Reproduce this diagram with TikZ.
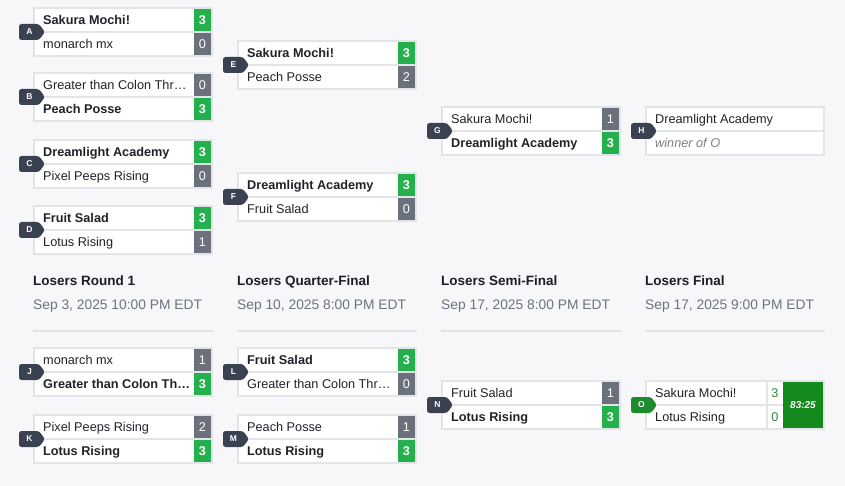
\documentclass[tikz,border=0pt]{standalone}
\usepackage{fontspec}
\setmainfont{Liberation Sans}
\usetikzlibrary{calc}
\pgfdeclarelayer{bg}
\pgfsetlayers{bg,main}
\definecolor{bgc}{HTML}{F7F7F9}
\definecolor{boxline}{HTML}{E3E4E8}
\definecolor{connc}{HTML}{D8DBE0}
\definecolor{wingreen}{HTML}{24B04C}
\definecolor{losegray}{HTML}{6B717C}
\definecolor{tagdark}{HTML}{3A4150}
\definecolor{taggreen}{HTML}{1D8A2E}
\definecolor{timegreen}{HTML}{148A1E}
\definecolor{oscore}{HTML}{2E8B3A}
\definecolor{teamc}{HTML}{1F2328}
\definecolor{titlec}{HTML}{1B1E25}
\definecolor{datec}{HTML}{6B7280}
\definecolor{italc}{HTML}{7A7F88}
\tikzset{
  box/.style={draw=boxline, line width=1.5pt, fill=white, minimum width=178pt, minimum height=48pt, inner sep=0pt, outer sep=0pt},
  rowline/.style={draw=boxline, line width=1.5pt},
  teamW/.style={anchor=base west, inner sep=0pt, font=\fontsize{12.7}{15}\selectfont\bfseries, text=teamc},
  teamL/.style={anchor=base west, inner sep=0pt, font=\fontsize{12.7}{15}\selectfont, text=teamc},
  teamI/.style={anchor=base west, inner sep=0pt, font=\fontsize{12.7}{15}\selectfont\itshape, text=italc},
  scoreW/.style={fill=wingreen, text=white, font=\fontsize{12.7}{15}\selectfont\bfseries, minimum width=17pt, minimum height=22pt, inner sep=0pt},
  scoreL/.style={fill=losegray, text=white, font=\fontsize{12.7}{15}\selectfont, minimum width=17pt, minimum height=22pt, inner sep=0pt},
  scoreO/.style={text=oscore, font=\fontsize{12.7}{15}\selectfont, inner sep=0pt},
  timebox/.style={fill=timegreen, text=white, font=\fontsize{10}{12}\selectfont\bfseries\itshape, minimum width=40pt, minimum height=46pt, inner sep=0pt},
  conn/.style={draw=connc, line width=1.5pt, rounded corners=7pt},
  tagtext/.style={text=white, font=\fontsize{8.5}{10}\selectfont\bfseries, minimum width=21pt, minimum height=16pt, inner sep=0pt},
  rtitle/.style={anchor=base west, inner sep=0pt, font=\fontsize{13.5}{16}\selectfont\bfseries, text=titlec},
  rdate/.style={anchor=base west, inner sep=0pt, font=\fontsize{13.8}{16}\selectfont, text=datec},
  hline/.style={draw=boxline, line width=1.5pt}
}
% #1 name, #2 left, #3 top, #4 text1, #5 score1, #6 W/L, #7 text2, #8 score2, #9 W/L
\newcommand\Match[9]{%
  \node[box] (#1) at (#2+89,#3+24) {};
  \draw[rowline] (#1.west) -- (#1.east);
  \node[team#6] (#1t1) at (#2+9,#3+16.5) {#4};
  \node[score#6] (#1s1) at (#2+168.5,#3+12) {#5};
  \node[team#9] (#1t2) at (#2+9,#3+40.5) {#7};
  \node[score#9] (#1s2) at (#2+168.5,#3+36) {#8};
}
% #1 name, #2 box left, #3 mid y, #4 letter, #5 colour
\newcommand\Tag[5]{%
  \fill[#5, rounded corners=2.5pt] (#2-15,#3-8) -- (#2+5,#3-8) -- (#2+11,#3) -- (#2+5,#3+8) -- (#2-15,#3+8) -- cycle;
  \node[tagtext] (#1) at (#2-4.5,#3) {#4};
}
\begin{document}
\begin{tikzpicture}[x=1pt, y=-1pt]
\useasboundingbox (0,0) rectangle (845,486);
\fill[bgc] (0,0) rectangle (845,486);

% upper bracket
\Match{A}{34}{8}{Sakura Mochi!}{3}{W}{monarch mx}{0}{L}
\Match{B}{34}{73}{Greater than Colon Thr…}{0}{L}{Peach Posse}{3}{W}
\Match{C}{34}{140}{Dreamlight Academy}{3}{W}{Pixel Peeps Rising}{0}{L}
\Match{D}{34}{206}{Fruit Salad}{3}{W}{Lotus Rising}{1}{L}
\Match{E}{238}{41}{Sakura Mochi!}{3}{W}{Peach Posse}{2}{L}
\Match{F}{238}{173}{Dreamlight Academy}{3}{W}{Fruit Salad}{0}{L}
\Match{G}{442}{107}{Sakura Mochi!}{1}{L}{Dreamlight Academy}{3}{W}

\node[box] (H) at (735,131) {};
\draw[rowline] (H.west) -- (H.east);
\node[teamL] (Ht1) at (655,123.5) {Dreamlight Academy};
\node[teamI] (Ht2) at (655,147.5) {winner of O};

% lower bracket
\Match{J}{34}{348}{monarch mx}{1}{L}{Greater than Colon Th…}{3}{W}
\Match{K}{34}{415}{Pixel Peeps Rising}{2}{L}{Lotus Rising}{3}{W}
\Match{L}{238}{348}{Fruit Salad}{3}{W}{Greater than Colon Thr…}{0}{L}
\Match{M}{238}{415}{Peach Posse}{1}{L}{Lotus Rising}{3}{W}
\Match{N}{442}{381}{Fruit Salad}{1}{L}{Lotus Rising}{3}{W}

\node[box] (O) at (735,405) {};
\draw[rowline] (O.west) -- (O.east);
\draw[rowline] (767,381) -- (767,429);
\node[teamL] (Ot1) at (655,397.5) {Sakura Mochi!};
\node[teamL] (Ot2) at (655,421.5) {Lotus Rising};
\node[scoreO] (Os1) at (775,393) {3};
\node[scoreO] (Os2) at (775,417) {0};
\node[timebox] (Otime) at (803,405) {83:25};

% tags
\Tag{tagA}{34}{32}{A}{tagdark}
\Tag{tagB}{34}{97}{B}{tagdark}
\Tag{tagC}{34}{164}{C}{tagdark}
\Tag{tagD}{34}{230}{D}{tagdark}
\Tag{tagE}{238}{65}{E}{tagdark}
\Tag{tagF}{238}{197}{F}{tagdark}
\Tag{tagG}{442}{131}{G}{tagdark}
\Tag{tagH}{646}{131}{H}{tagdark}
\Tag{tagJ}{34}{372}{J}{tagdark}
\Tag{tagK}{34}{439}{K}{tagdark}
\Tag{tagL}{238}{372}{L}{tagdark}
\Tag{tagM}{238}{439}{M}{tagdark}
\Tag{tagN}{442}{405}{N}{tagdark}
\Tag{tagO}{646}{405}{O}{taggreen}

% connectors
\begin{pgfonlayer}{bg}
\draw[conn] (A.east) -| ([xshift=2.5pt]tagE.west) |- (B.east);
\draw[conn] (C.east) -| ([xshift=2.5pt]tagF.west) |- (D.east);
\draw[conn] (E.east) -| ([xshift=2.5pt]tagG.west) |- (F.east);
\draw[conn] (G.east) -- (tagH.west);
\draw[conn] (J.east) -- (tagL.west);
\draw[conn] (K.east) -- (tagM.west);
\draw[conn] (L.east) -| ([xshift=2.5pt]tagN.west) |- (M.east);
\draw[conn] (N.east) -- (tagO.west);
\end{pgfonlayer}

% round headers
\node[rtitle] (t1) at (33,285) {Losers Round 1};
\node[rdate] (d1) at (33,309) {Sep 3, 2025 10:00 PM EDT};
\node[rtitle] (t2) at (237,285) {Losers Quarter-Final};
\node[rdate] (d2) at (237,309) {Sep 10, 2025 8:00 PM EDT};
\node[rtitle] (t3) at (441,285) {Losers Semi-Final};
\node[rdate] (d3) at (441,309) {Sep 17, 2025 8:00 PM EDT};
\node[rtitle] (t4) at (645,285) {Losers Final};
\node[rdate] (d4) at (645,309) {Sep 17, 2025 9:00 PM EDT};
\coordinate (h1a) at (33,331); \coordinate (h1b) at (213,331);
\coordinate (h2a) at (237,331); \coordinate (h2b) at (417,331);
\coordinate (h3a) at (441,331); \coordinate (h3b) at (621,331);
\coordinate (h4a) at (645,331); \coordinate (h4b) at (825,331);
\draw[hline] (h1a) -- (h1b);
\draw[hline] (h2a) -- (h2b);
\draw[hline] (h3a) -- (h3b);
\draw[hline] (h4a) -- (h4b);
\end{tikzpicture}
\end{document}
